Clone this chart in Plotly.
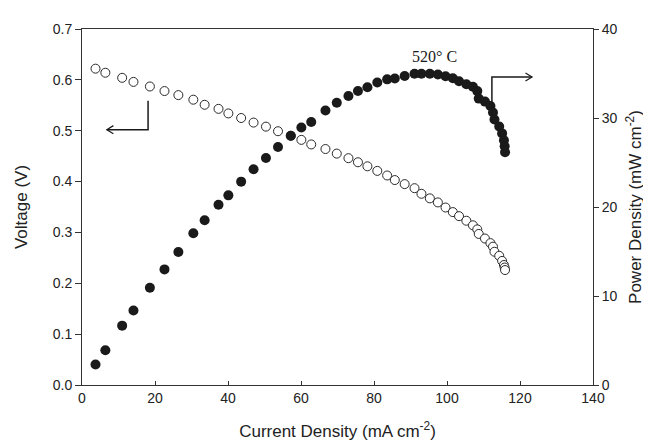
import plotly.graph_objects as go

# Current density (mA cm-2), shared by both series
current = [3.7, 6.4, 11.0, 14.1, 18.6, 22.6, 26.4, 30.5, 33.6, 37.4,
           40.1, 43.6, 47.0, 50.4, 53.7, 57.2, 60.1, 62.8, 66.7, 69.8,
           73.0, 75.6, 78.2, 80.9, 83.6, 85.7, 88.4, 91.1, 93.0, 95.3,
           97.5, 99.6, 101.6, 103.3, 105.3, 107.1, 108.3, 108.7, 110.4, 111.9,
           112.6, 113.0, 114.3, 115.1, 115.6, 115.8, 115.9]

voltage = [0.622, 0.614, 0.604, 0.596, 0.587, 0.578, 0.570, 0.561, 0.551, 0.543,
           0.534, 0.525, 0.516, 0.508, 0.499, 0.490, 0.482, 0.473, 0.464, 0.455,
           0.446, 0.438, 0.430, 0.421, 0.412, 0.403, 0.395, 0.387, 0.376, 0.367,
           0.359, 0.349, 0.340, 0.332, 0.323, 0.314, 0.306, 0.297, 0.288, 0.279,
           0.272, 0.262, 0.254, 0.244, 0.236, 0.231, 0.226]

power = [2.31, 3.91, 6.67, 8.38, 10.92, 12.99, 14.94, 17.06, 18.51, 20.26,
         21.31, 22.85, 24.25, 25.51, 26.74, 28.01, 28.94, 29.55, 30.84, 31.71,
         32.48, 33.04, 33.46, 33.99, 34.34, 34.44, 34.72, 34.97, 34.97, 34.97,
         34.89, 34.69, 34.47, 34.13, 33.80, 33.52, 33.02, 32.18, 31.84, 31.34,
         30.61, 29.83, 29.05, 28.27, 27.49, 26.82, 26.15]

x_ticks = [0, 20, 40, 60, 80, 100, 120, 140]
v_ticks = [0.0, 0.1, 0.2, 0.3, 0.4, 0.5, 0.6, 0.7]
p_ticks = [0, 10, 20, 30, 40]

FONT = "Liberation Sans, Arial, sans-serif"
AXIS_COLOR = "#333333"

fig = go.Figure()

# Voltage (open circles)
fig.add_trace(go.Scatter(
    x=current, y=voltage, mode="markers", name="Voltage",
    marker=dict(symbol="circle", size=9, color="white",
                line=dict(color="#2a2a2a", width=1)),
    yaxis="y",
))

# Power density (filled circles)
fig.add_trace(go.Scatter(
    x=current, y=power, mode="markers", name="Power density",
    marker=dict(symbol="circle", size=10, color="#1a1a1a",
                line=dict(color="#1a1a1a", width=0)),
    yaxis="y2",
))

# Arrows pointing to each axis
line_style = dict(color="#1a1a1a", width=1.5)
fig.add_shape(type="path", xref="x", yref="y",
              path="M 18.1,0.559 L 18.1,0.502 L 6.8,0.502", line=line_style)
fig.add_shape(type="path", xref="x", yref="y",
              path="M 8.6,0.510 L 6.8,0.502 L 8.6,0.494", line=dict(color="#1a1a1a", width=1.2))
fig.add_shape(type="path", xref="x", yref="y2",
              path="M 112.3,30.8 L 112.3,34.6 L 123.3,34.6", line=line_style)
fig.add_shape(type="path", xref="x", yref="y2",
              path="M 121.5,35.05 L 123.3,34.6 L 121.5,34.15", line=dict(color="#1a1a1a", width=1.2))

fig.add_annotation(x=96.7, y=36.9, xref="x", yref="y2", text="520° C",
                   showarrow=False,
                   font=dict(family="Liberation Serif, Times New Roman, serif",
                             size=16, color="#1a1a1a"))

fig.update_layout(
    width=651, height=442,
    margin=dict(l=74, r=66, t=21, b=63),
    paper_bgcolor="white", plot_bgcolor="white",
    showlegend=False,
    font=dict(family=FONT, size=14, color="#222222"),
    xaxis=dict(
        range=[0, 140], tickvals=x_ticks, ticks="inside", ticklen=4,
        tickcolor=AXIS_COLOR, showline=True, linecolor=AXIS_COLOR, linewidth=1,
        mirror=True, showgrid=False, zeroline=False,
        title=dict(text="Current Density (mA cm<sup>-2</sup>)", standoff=20),
    ),
    yaxis=dict(
        range=[0, 0.7], tickvals=v_ticks, tickformat=".1f", ticks="outside",
        ticklen=6, tickcolor=AXIS_COLOR, showline=True, linecolor=AXIS_COLOR,
        linewidth=1, showgrid=False, zeroline=False,
        title=dict(text="Voltage (V)", standoff=20),
    ),
    yaxis2=dict(
        range=[0, 40], tickvals=p_ticks, ticks="outside", ticklen=5,
        tickcolor=AXIS_COLOR, showline=True, linecolor=AXIS_COLOR, linewidth=1,
        showgrid=False, zeroline=False, overlaying="y", side="right", anchor="x",
        title=dict(text="Power Density (mW cm<sup>-2</sup>)", standoff=12),
    ),
)

fig.write_html("out.html")
